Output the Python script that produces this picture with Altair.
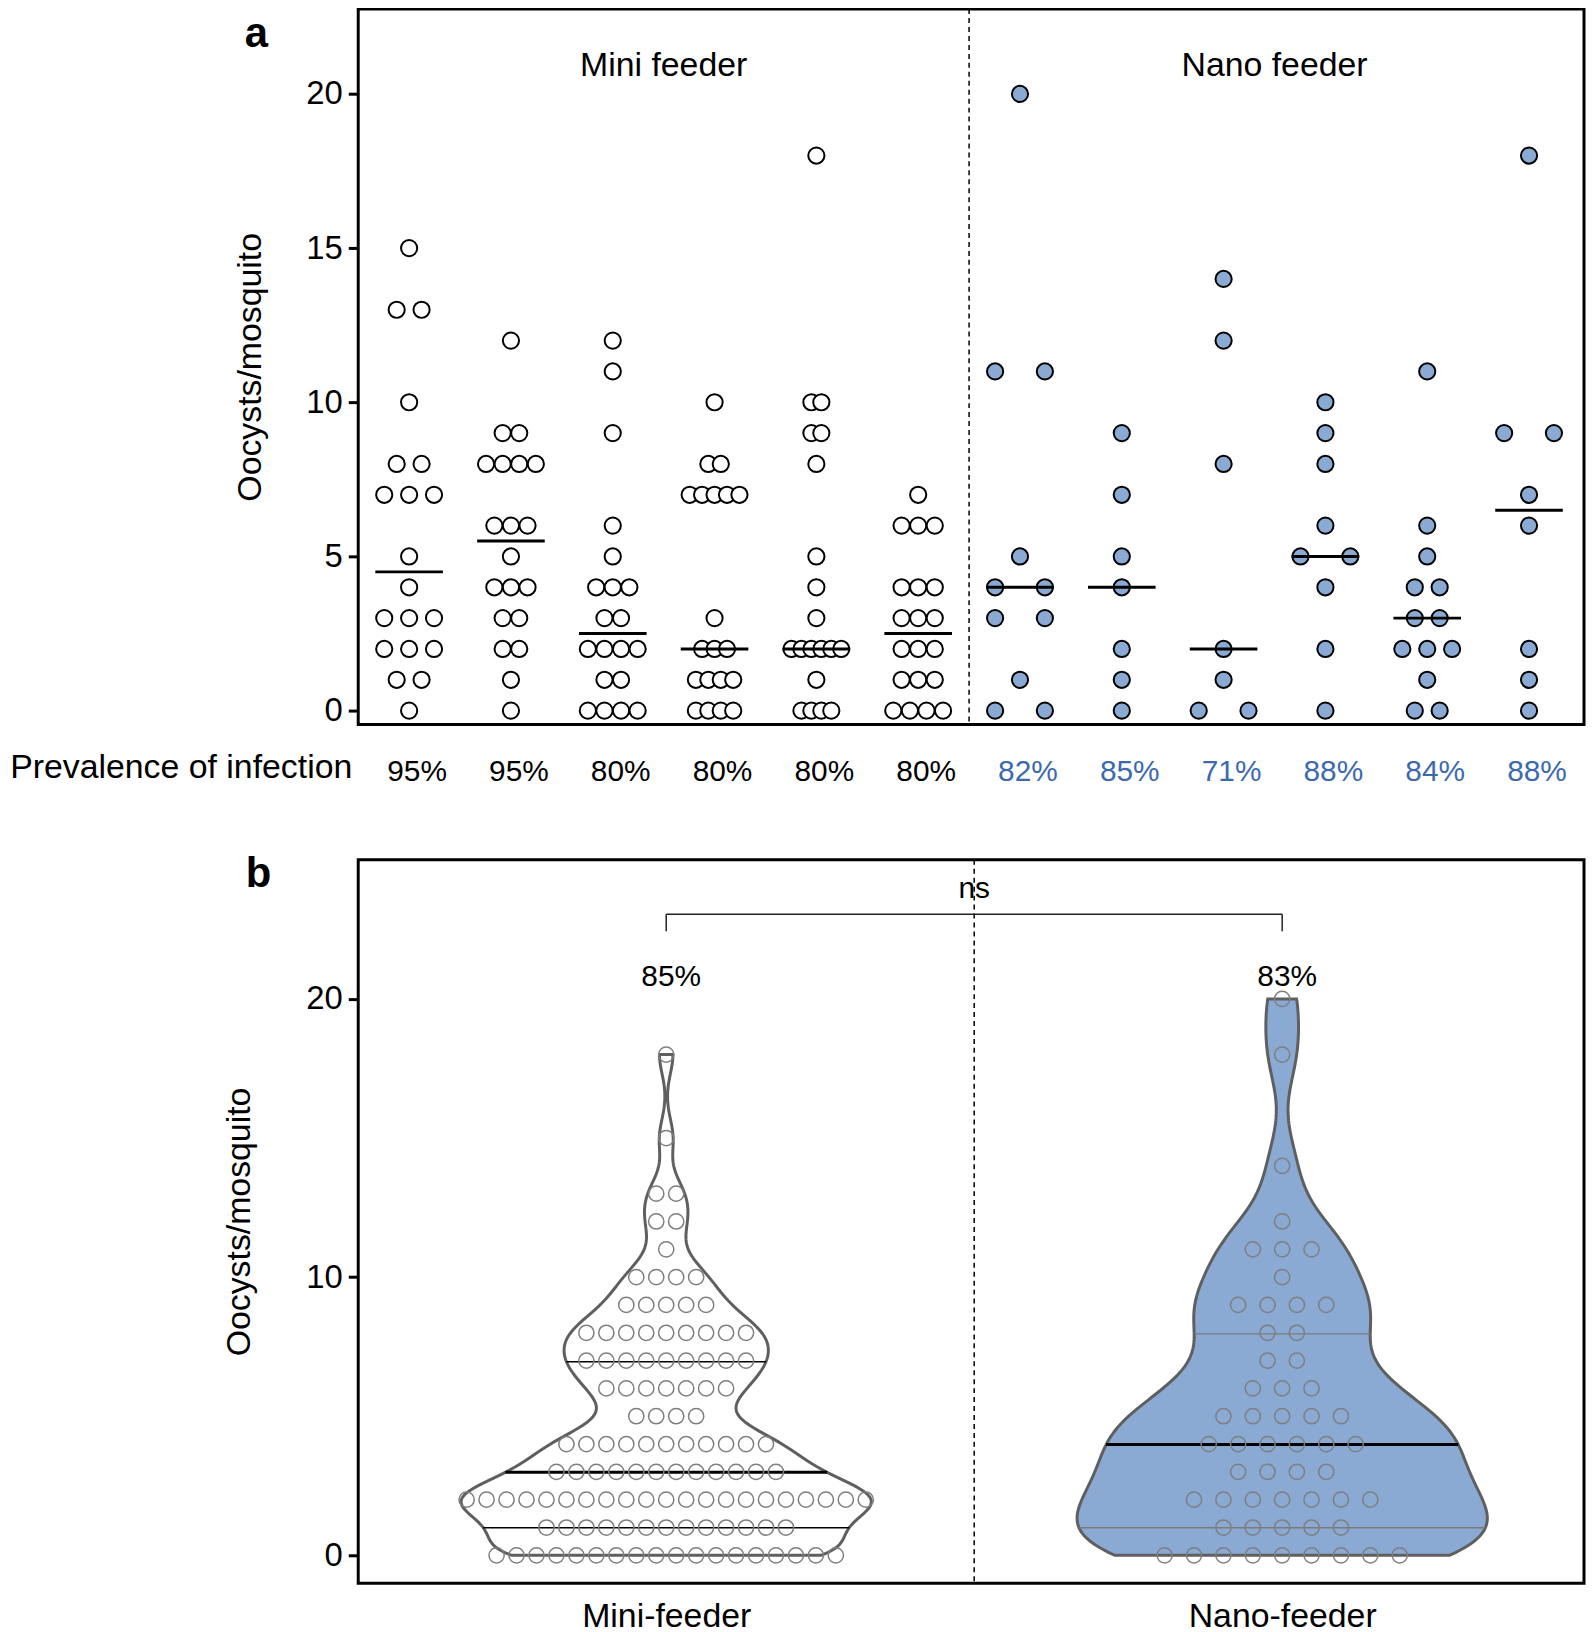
import altair as alt
import numpy as np
import pandas as pd

# ---------------- data (oocysts per mosquito) ----------------
mini_1 = [15, 13, 13, 10, 8, 8, 7, 7, 7, 5, 4, 3, 3, 3, 2, 2, 2, 1, 1, 0]
mini_2 = [12, 9, 9, 8, 8, 8, 8, 6, 6, 6, 5, 4, 4, 4, 3, 3, 2, 2, 1, 0]
mini_3 = [12, 11, 9, 6, 5, 4, 4, 4, 3, 3, 2, 2, 2, 2, 1, 1, 0, 0, 0, 0]
mini_4 = [10, 8, 8, 7, 7, 7, 7, 7, 3, 2, 2, 2, 1, 1, 1, 1, 0, 0, 0, 0]
mini_5 = [18, 10, 10, 9, 9, 8, 5, 4, 3, 2, 2, 2, 2, 2, 2, 1, 0, 0, 0, 0]
mini_6 = [7, 6, 6, 6, 4, 4, 4, 3, 3, 3, 2, 2, 2, 1, 1, 1, 0, 0, 0, 0]
nano_1 = [20, 11, 11, 5, 4, 4, 3, 3, 1, 0, 0]
nano_2 = [9, 7, 5, 4, 2, 1, 0]
nano_3 = [14, 12, 8, 2, 1, 0, 0]
nano_4 = [10, 9, 8, 6, 5, 5, 4, 2, 0]
nano_5 = [11, 6, 5, 4, 4, 3, 3, 2, 2, 2, 1, 0, 0]
nano_6 = [18, 9, 9, 7, 6, 2, 1, 0]

groups = [mini_1, mini_2, mini_3, mini_4, mini_5, mini_6,
          nano_1, nano_2, nano_3, nano_4, nano_5, nano_6]
feeders = ["Mini"] * 6 + ["Nano"] * 6
prevalence = ["95%", "95%", "80%", "80%", "80%", "80%",
              "82%", "85%", "71%", "88%", "84%", "88%"]
panel_a_titles = ["Mini feeder", "Nano feeder"]
prevalence_title = "Prevalence of infection"
b_labels = ["Mini-feeder", "Nano-feeder"]
b_prevalence = ["85%", "83%"]
b_test = "ns"
y_title = "Oocysts/mosquito"

# ---------------- styling constants ----------------
FONT = "Liberation Sans"
BLUE_FILL = "#8AAAD4"
BLUE_TEXT = "#3D6AAE"
SPREAD_A = 0.489          # width (x units) of widest row in panel a
MED_HALF = 0.332
SPACING_B = {"Mini": 0.0324, "Nano": 0.0477}
VIOLIN_HALF = 0.333
BANDWIDTH = {"Mini": 0.7, "Nano": 1.2}

# ---------------- derived tables ----------------
rows_a, rows_raw = [], []
for gi, vals in enumerate(groups):
    pos = gi + 1
    counts = pd.Series(vals).value_counts().sort_index()
    M = counts.max()
    sp = SPREAD_A / (M - 1) if M > 1 else 0.0
    for v, n in counts.items():
        for i in range(n):
            rows_a.append(dict(group=pos, feeder=feeders[gi], value=float(v),
                               x=pos + (i - (n - 1) / 2) * sp))
    for v in vals:
        rows_raw.append(dict(group=pos, feeder=feeders[gi], value=float(v)))
pts_a = pd.DataFrame(rows_a)
raw_a = pd.DataFrame(rows_raw)

prev_df = pd.DataFrame({"group": np.arange(1, 13), "label": prevalence, "feeder": feeders})

# panel b pooled
pooled = {"Mini": [v for g, f in zip(groups, feeders) if f == "Mini" for v in g],
          "Nano": [v for g, f in zip(groups, feeders) if f == "Nano" for v in g]}
centers_b = {"Mini": 1.0, "Nano": 2.0}
rows_b = []
for f, vals in pooled.items():
    counts = pd.Series(vals).value_counts().sort_index()
    for v, n in counts.items():
        for i in range(n):
            rows_b.append(dict(feeder=f, value=float(v),
                               x=centers_b[f] + (i - (n - 1) / 2) * SPACING_B[f]))
pts_b = pd.DataFrame(rows_b)
raw_b = pd.DataFrame([dict(feeder=f, value=float(v)) for f, vals in pooled.items() for v in vals])

# ---------------- panel a ----------------
SA = alt.Scale(domain=[0.5, 12.54], nice=False, zero=False)
SYA = alt.Scale(domain=[-0.45, 22.75], nice=False, zero=False)
axis_ya = alt.Axis(values=[0, 5, 10, 15, 20], titlePadding=39, labelPadding=6, tickSize=10)


def XA(f):
    return alt.X(f, type="quantitative", scale=SA, axis=None)


def YA(f):
    return alt.Y(f, type="quantitative", scale=SYA, axis=axis_ya, title=y_title)


divider_a = alt.Chart(pd.DataFrame({"x": [6.5]})).mark_rule(
    color="black", strokeWidth=1.5, strokeDash=[5, 4]).encode(x=XA("x"))

dots_mini = alt.Chart(pts_a[pts_a.feeder == "Mini"]).mark_circle(
    size=265, fill="white", stroke="black", strokeWidth=2, opacity=1, fillOpacity=1
).encode(x=XA("x"), y=YA("value"))
dots_nano = alt.Chart(pts_a[pts_a.feeder == "Nano"]).mark_circle(
    size=265, fill=BLUE_FILL, stroke="black", strokeWidth=2, opacity=1, fillOpacity=1
).encode(x=XA("x"), y=YA("value"))

medians_a = alt.Chart(raw_a).transform_aggregate(
    med="median(value)", groupby=["group"]
).transform_calculate(
    x1=f"datum.group - {MED_HALF}", x2=f"datum.group + {MED_HALF}"
).mark_rule(color="black", strokeWidth=3).encode(
    x=XA("x1"), x2=alt.X2("x2"), y=YA("med"))

prev_mini = alt.Chart(prev_df[prev_df.feeder == "Mini"]).transform_calculate(
    yy="-1.98").mark_text(fontSize=30, color="black", dx=8).encode(
    x=XA("group"), y=YA("yy"), text="label:N")
prev_nano = alt.Chart(prev_df[prev_df.feeder == "Nano"]).transform_calculate(
    yy="-1.98").mark_text(fontSize=30, color=BLUE_TEXT, dx=8).encode(
    x=XA("group"), y=YA("yy"), text="label:N")

prev_title = alt.Chart(pd.DataFrame({"x": [0.5], "y": [-1.86], "t": [prevalence_title]})).mark_text(
    fontSize=34, align="right", dx=-6, color="black").encode(x=XA("x"), y=YA("y"), text="t:N")

titles_a = alt.Chart(pd.DataFrame({"x": [3.5, 9.5], "y": [20.9, 20.9], "t": panel_a_titles})).mark_text(
    fontSize=34, color="black").encode(x=XA("x"), y=YA("y"), text="t:N")

letter_a = alt.Chart(pd.DataFrame({"x": [-0.5], "y": [21.95], "t": ["a"]})).mark_text(
    fontSize=42, fontWeight="bold", color="black").encode(x=XA("x"), y=YA("y"), text="t:N")

panel_a = alt.layer(divider_a, dots_mini, dots_nano, medians_a, prev_mini, prev_nano,
                    prev_title, titles_a, letter_a).properties(width=1232, height=719)

# ---------------- panel b ----------------
SB = alt.Scale(domain=[0.5, 2.49], nice=False, zero=False)
SYB = alt.Scale(domain=[-1, 25], nice=False, zero=False)
axis_yb = alt.Axis(values=[0, 10, 20], titlePadding=50, labelPadding=6, tickSize=10)
axis_xb = alt.Axis(values=[1, 2],
                   labelExpr=f"datum.value == 1 ? '{b_labels[0]}' : '{b_labels[1]}'",
                   ticks=False, tickSize=0, labelPadding=17, labelFontSize=34, labelLimit=600)


def XB(f):
    return alt.X(f, type="quantitative", scale=SB, axis=axis_xb, title=None)


def YB(f):
    return alt.Y(f, type="quantitative", scale=SYB, axis=axis_yb, title=y_title)


def quantile_r6(vals, p):
    return float(np.percentile(vals, p, method="weibull"))


def level_rule(base, q, color, width):
    return base.transform_calculate(
        dq=f"abs(datum.value - {q})"
    ).transform_filter("datum.dq < 0.2").transform_joinaggregate(
        mind="min(dq)"
    ).transform_filter("datum.dq == datum.mind").mark_rule(
        color=color, strokeWidth=width).encode(
        y=YB("value"), x=XB("left"), x2=alt.X2("right"))


layers_b = [alt.Chart(pd.DataFrame({"x": [1.5]})).mark_rule(
    color="black", strokeWidth=1.5, strokeDash=[5, 4]).encode(x=XB("x"))]

for f, fill, qcol in [("Mini", "white", "black"), ("Nano", BLUE_FILL, "#7a7a7a")]:
    vals = pooled[f]
    vmax = float(max(vals))
    steps = int(round(vmax * 10)) + 1
    c = centers_b[f]
    base = alt.Chart(raw_b).transform_filter(
        alt.datum.feeder == f
    ).transform_density(
        "value", as_=["value", "density"], bandwidth=BANDWIDTH[f],
        extent=[0, vmax], steps=steps
    ).transform_joinaggregate(dmax="max(density)").transform_calculate(
        left=f"{c} - {VIOLIN_HALF} * datum.density / datum.dmax",
        right=f"{c} + {VIOLIN_HALF} * datum.density / datum.dmax")
    area = base.mark_area(orient="horizontal", fill=fill, stroke="#5f5f5f",
                          strokeWidth=3, opacity=1, fillOpacity=1).encode(
        y=YB("value"), x=XB("left"), x2=alt.X2("right"))
    q1, q2, q3 = (quantile_r6(vals, p) for p in (25, 50, 75))
    layers_b += [area,
                 level_rule(base, q1, qcol, 1.5),
                 level_rule(base, q3, qcol, 1.5),
                 level_rule(base, q2, "black", 3)]

dots_b = alt.Chart(pts_b).mark_point(
    shape="circle", size=235, filled=False, stroke="#7f7f7f", strokeWidth=1.5, opacity=1
).encode(x=XB("x"), y=YB("value"))
layers_b.append(dots_b)

# significance bracket
brk_h = alt.Chart(pd.DataFrame({"x": [1.0], "x2": [2.0], "y": [23.04]})).mark_rule(
    color="#222222", strokeWidth=1.5).encode(x=XB("x"), x2=alt.X2("x2"), y=YB("y"))
brk_v = alt.Chart(pd.DataFrame({"x": [1.0, 2.0], "y": [22.43, 22.43], "y2": [23.04, 23.04]})).mark_rule(
    color="#222222", strokeWidth=1.5).encode(x=XB("x"), y=YB("y"), y2=alt.Y2("y2"))
ns_text = alt.Chart(pd.DataFrame({"x": [1.5], "y": [23.95], "t": [b_test]})).mark_text(
    fontSize=30, color="black").encode(x=XB("x"), y=YB("y"), text="t:N")
prev_b = alt.Chart(pd.DataFrame({"x": [1.0, 2.0], "y": [20.8, 20.8], "t": b_prevalence})).mark_text(
    fontSize=30, color="black", dx=5).encode(x=XB("x"), y=YB("y"), text="t:N")
letter_b = alt.Chart(pd.DataFrame({"x": [0.338], "y": [24.5], "t": ["b"]})).mark_text(
    fontSize=42, fontWeight="bold", color="black").encode(x=XB("x"), y=YB("y"), text="t:N")
layers_b += [brk_h, brk_v, ns_text, prev_b, letter_b]

panel_b = alt.layer(*layers_b).properties(width=1232, height=727)

chart = alt.vconcat(panel_a, panel_b, spacing=136, bounds="flush").configure_view(
    stroke="black", strokeWidth=3
).configure_axis(
    domain=False, grid=False, tickColor="black", tickWidth=3,
    labelFont=FONT, labelFontSize=33, labelColor="black",
    titleFont=FONT, titleFontSize=34, titleFontWeight="normal", titleColor="black"
).configure_text(font=FONT).properties(
    background="white", padding={"left": 0, "top": -6, "right": 0, "bottom": 0})

chart.save("out.html", embed_options={"renderer": "svg", "actions": False})
